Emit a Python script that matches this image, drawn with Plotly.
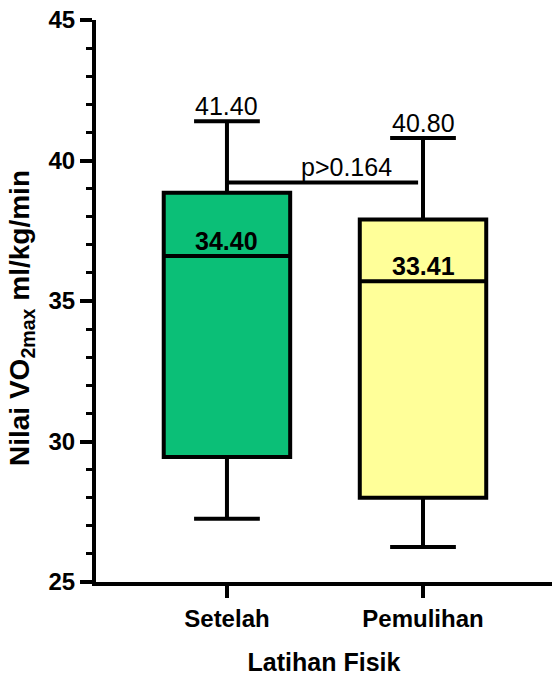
import plotly.graph_objects as go

# ---- data ----
categories = ["Setelah", "Pemulihan"]
lower_whisker = [27.25, 26.25]
q1_values = [29.45, 28.0]
median_values = [36.6, 35.7]
q3_values = [38.85, 37.9]
upper_whisker = [41.4, 40.8]
max_labels = ["41.40", "40.80"]
mean_labels = ["34.40", "33.41"]
p_label = "p>0.164"
p_bracket_y = 39.22
fill_colors = ["#0bbf77", "#ffff99"]

FONT = "Liberation Sans, Arial, sans-serif"

fig = go.Figure()
for i, cat in enumerate(categories):
    fig.add_trace(go.Box(
        x=[cat],
        q1=[q1_values[i]],
        median=[median_values[i]],
        q3=[q3_values[i]],
        lowerfence=[lower_whisker[i]],
        upperfence=[upper_whisker[i]],
        fillcolor=fill_colors[i],
        line=dict(color="black", width=4),
        width=0.645,
        whiskerwidth=0.52,
        boxpoints=False,
        showlegend=False,
        hoverinfo="skip",
    ))
    # label above upper whisker cap
    fig.add_annotation(x=cat, y=upper_whisker[i], text=max_labels[i],
                       showarrow=False, yanchor="bottom", yshift=-1,
                       font=dict(family=FONT, size=25, color="black"))
    # label above median line
    fig.add_annotation(x=cat, y=median_values[i], text=mean_labels[i],
                       showarrow=False, yanchor="bottom", yshift=-1,
                       font=dict(family=FONT, size=25, color="black", weight="bold"))

# significance bracket between the two groups
fig.add_shape(type="line", xref="x", yref="y",
              x0=0, x1=0.975, y0=p_bracket_y, y1=p_bracket_y,
              line=dict(color="black", width=4))
fig.add_annotation(x=0.61, y=p_bracket_y, xref="x", yref="y", text=p_label,
                   showarrow=False, yanchor="bottom", yshift=-1,
                   font=dict(family=FONT, size=25, color="black"))

# y-axis title (rotated)
fig.add_annotation(xref="paper", yref="paper", x=-0.162, y=0.47,
                   text="Nilai VO<sub>2max</sub> ml/kg/min", textangle=-90,
                   showarrow=False, xanchor="center", yanchor="middle",
                   font=dict(family=FONT, size=28, color="black", weight="bold"))

fig.update_layout(
    width=552, height=677,
    margin=dict(l=96, r=0, t=20, b=95),
    paper_bgcolor="white", plot_bgcolor="white",
    font=dict(family=FONT, color="black"),
    boxmode="overlay",
    xaxis=dict(
        type="category",
        categoryorder="array", categoryarray=categories,
        range=[-0.668, 1.658],
        showline=True, linecolor="black", linewidth=4,
        ticks="outside", ticklen=12, tickwidth=4, tickcolor="black",
        showgrid=False, zeroline=False,
        tickfont=dict(family=FONT, size=24, color="black", weight="bold"),
        title=dict(text="Latihan Fisik", standoff=24,
                   font=dict(family=FONT, size=25, color="black", weight="bold")),
    ),
    yaxis=dict(
        range=[25, 45],
        tickvals=[25, 30, 35, 40, 45],
        showline=True, linecolor="black", linewidth=4,
        ticks="outside", ticklen=12, tickwidth=4, tickcolor="black",
        minor=dict(dtick=1, ticklen=6, tickwidth=3, ticks="outside", tickcolor="black"),
        showgrid=False, zeroline=False,
        tickfont=dict(family=FONT, size=24, color="black", weight="bold"),
    ),
)

fig.write_html("out.html", config={"displayModeBar": False},
               post_script="document.body.style.margin='0';")
